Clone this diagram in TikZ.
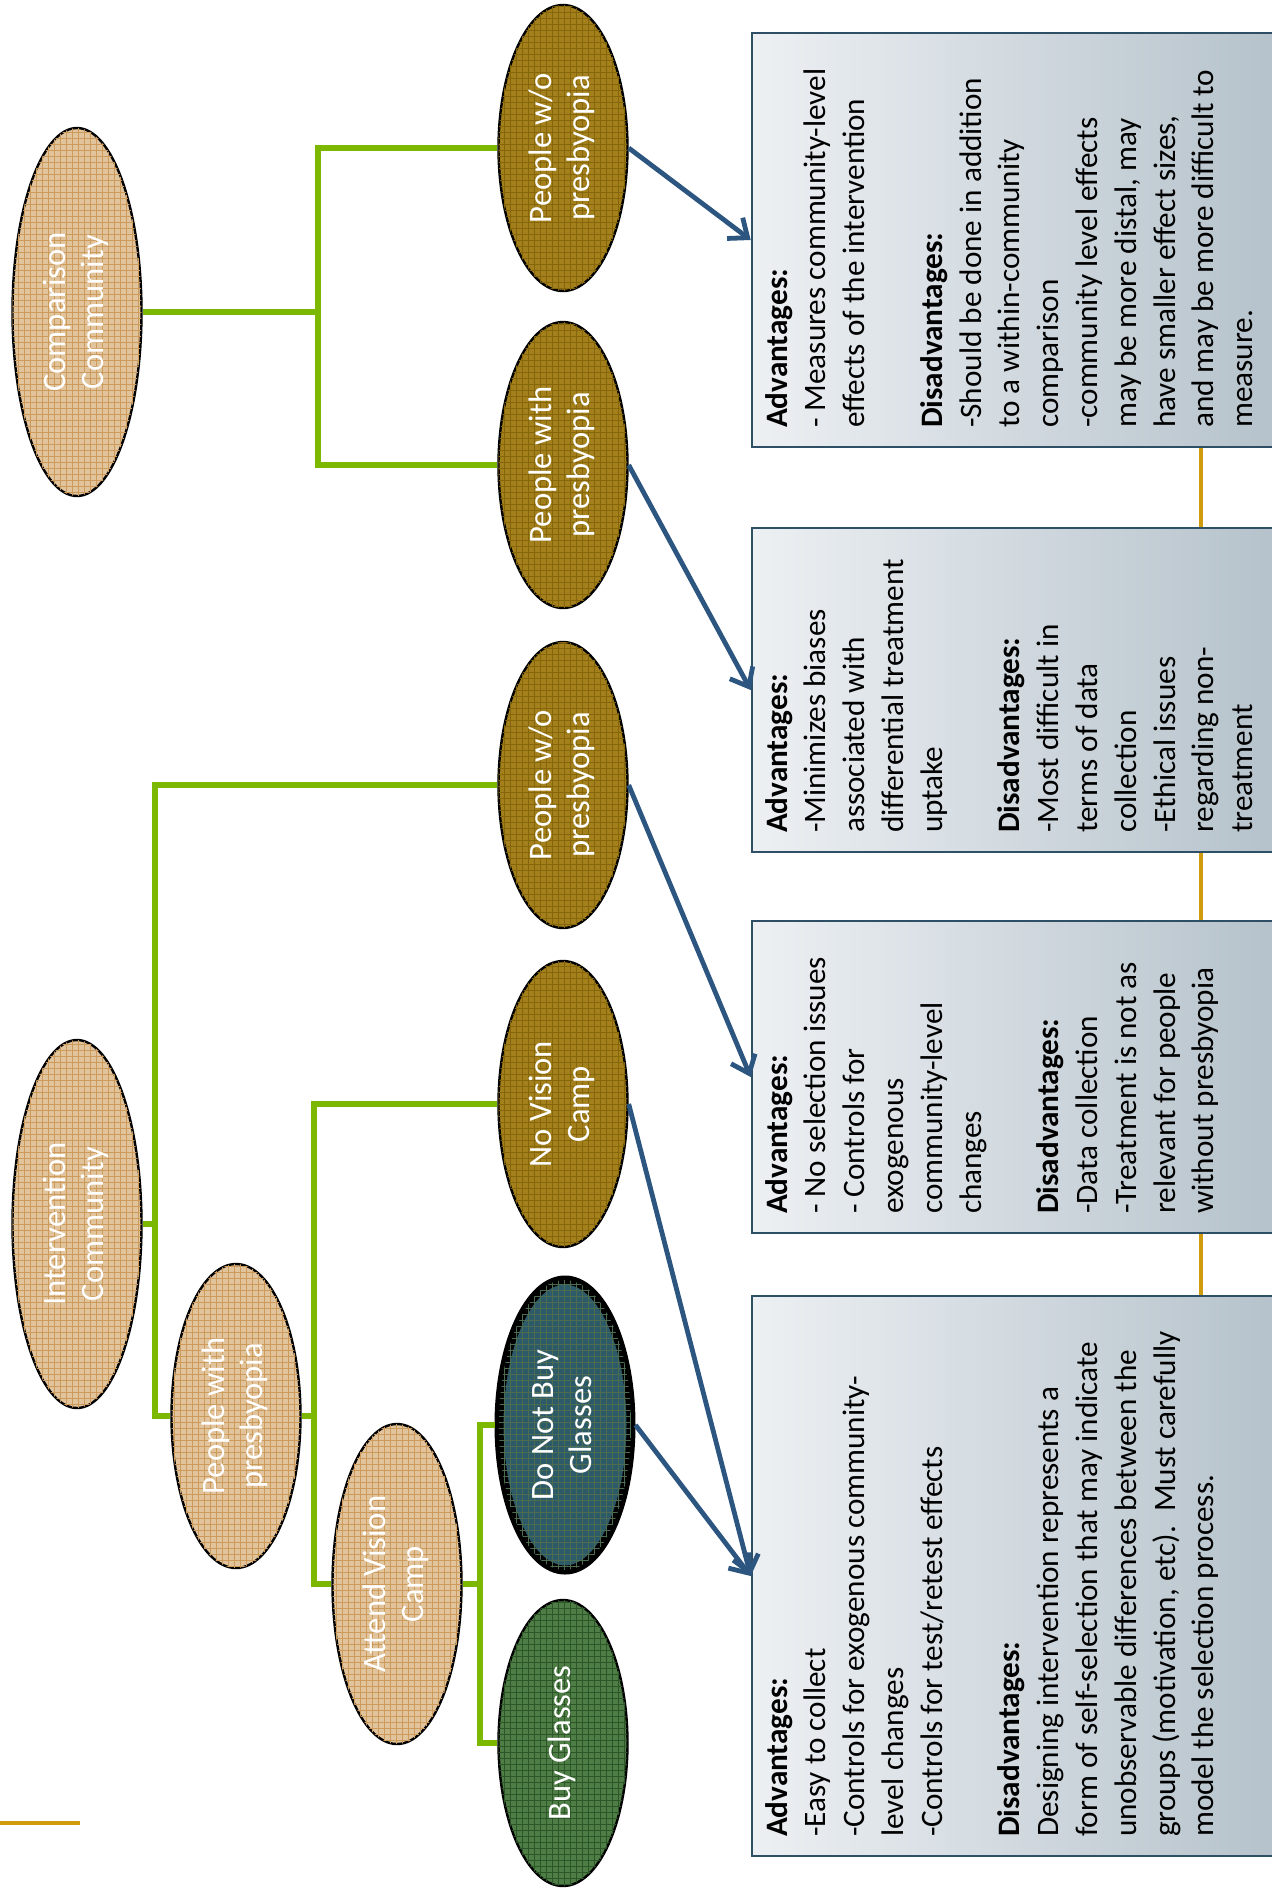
\documentclass[tikz,border=0pt]{standalone}
\usepackage{fontspec}
\setmainfont{Carlito}
\usepackage{graphicx}
\usetikzlibrary{shapes.geometric,arrows.meta,patterns}

\definecolor{tanfill}{HTML}{E2C49C}
\definecolor{tangrid}{HTML}{CC9B5C}
\definecolor{olivefill}{HTML}{A3801C}
\definecolor{olivegrid}{HTML}{85660A}
\definecolor{tealfill}{HTML}{2D5A69}
\definecolor{tealgrid}{HTML}{4C6C52}
\definecolor{leaffill}{HTML}{4E7D45}
\definecolor{leafgrid}{HTML}{2C5628}
\definecolor{treegreen}{HTML}{7DB800}
\definecolor{linkblue}{HTML}{2C5580}
\definecolor{goldline}{HTML}{D09C0E}
\definecolor{panelL}{HTML}{EDF0F3}
\definecolor{panelR}{HTML}{B4C1CA}
\definecolor{panelborder}{HTML}{2E5066}

\newcommand{\vtext}[1]{\rotatebox{90}{\begin{tabular}{@{}c@{}}#1\end{tabular}}}

\begin{document}
\begin{tikzpicture}[x=0.5pt,y=-0.5pt,
  blob/.style={ellipse, draw=black, line width=1.2pt, inner sep=0pt,
    text=white, font=\fontsize{16.3}{19}\selectfont, minimum width=64.5pt},
  tanblob/.style={blob, fill=tanfill, postaction={pattern=grid, pattern color=tangrid}},
  oliveblob/.style={blob, fill=olivefill, postaction={pattern=grid, pattern color=olivegrid}},
  tree/.style={draw=treegreen, line width=2.6pt, line join=miter},
  link/.style={draw=linkblue, line width=2.4pt, -{Straight Barb[length=8pt,width=13pt]}},
  panel/.style={rectangle, draw=panelborder, line width=1.3pt,
    left color=panelL, right color=panelR, inner sep=0pt, minimum width=269pt},
  paneltext/.style={rotate=90, anchor=north west, inner sep=0pt, align=left,
    font=\fontsize{15.6}{19.4}\selectfont},
  goldrule/.style={draw=goldline, line width=2pt}
]
\useasboundingbox (0,0) rectangle (1272,1896);
\clip (0,0) rectangle (1272,1896);

% ---- community and group ellipses ----
\node[tanblob, minimum height=184pt] (comp) at (77,312) {\vtext{Comparison\\Community}};
\node[tanblob, minimum height=184pt] (interv) at (77,1224) {\vtext{Intervention\\Community}};
\node[tanblob, minimum height=152pt] (pw2) at (236,1416) {\vtext{People with\\presbyopia}};
\node[tanblob, minimum height=160pt] (avc) at (397,1584) {\vtext{Attend Vision\\Camp}};

\node[oliveblob, minimum height=143pt] (pwo1) at (563,148) {\vtext{People w/o\\presbyopia}};
\node[oliveblob, minimum height=143pt] (pw1) at (563,465) {\vtext{People with\\presbyopia}};
\node[oliveblob, minimum height=143pt] (pwo2) at (563,785) {\vtext{People w/o\\presbyopia}};
\node[oliveblob, minimum height=143pt] (nvc) at (563,1104) {\vtext{No Vision\\Camp}};
\node[blob, line width=4.5pt, fill=tealfill, postaction={pattern=grid, pattern color=tealgrid},
  minimum width=66pt, minimum height=145pt] (dnb) at (565,1425) {\vtext{Do Not Buy\\Glasses}};
\node[blob, fill=leaffill, postaction={pattern=grid, pattern color=leafgrid},
  minimum height=143pt] (buy) at (563,1743) {\vtext{Buy Glasses}};

% ---- tree connectors ----
\coordinate (tA) at (318,0);
\coordinate (tB) at (155,0);
\coordinate (tC) at (314,0);
\coordinate (tD) at (480,0);

\draw[tree] (comp.east) -- (comp.east -| tA);
\draw[tree] (pwo1.west) -- (pwo1.west -| tA) -- (pw1.west -| tA) -- (pw1.west);

\draw[tree] (interv.east) -- (interv.east -| tB);
\draw[tree] (pwo2.west) -- (pwo2.west -| tB) -- (pw2.west -| tB) -- (pw2.west);

\draw[tree] (pw2.east) -- (pw2.east -| tC);
\draw[tree] (nvc.west) -- (nvc.west -| tC) -- (avc.west -| tC) -- (avc.west);

\draw[tree] (avc.east) -- (avc.east -| tD);
\draw[tree] (dnb.west) -- (dnb.west -| tD) -- (buy.west -| tD) -- (buy.west);

% ---- comparison panels ----
\node[panel, minimum height=207pt] (boxA) at (1021,240) {};
\node[panel, minimum height=162pt] (boxB) at (1021,690) {};
\node[panel, minimum height=156pt] (boxC) at (1021,1077) {};
\node[panel, minimum height=280pt] (boxD) at (1021,1576) {};

\node[paneltext] (txtA) at ([xshift=7pt,yshift=10pt]boxA.south west) {%
\textbf{Advantages:}\\
- Measures community-level\\
effects of the intervention\\[19.4pt]
\textbf{Disadvantages:}\\
-Should be done in addition\\
to a within-community\\
comparison\\
-community level effects\\
may be more distal, may\\
have smaller effect sizes,\\
and may be more difficult to\\
measure.};

\node[paneltext] (txtB) at ([xshift=7pt,yshift=10pt]boxB.south west) {%
\textbf{Advantages:}\\
-Minimizes biases\\
associated with\\
differential treatment\\
uptake\\[19.4pt]
\textbf{Disadvantages:}\\
-Most difficult in\\
terms of data\\
collection\\
-Ethical issues\\
regarding non-\\
treatment};

\node[paneltext] (txtC) at ([xshift=7pt,yshift=10pt]boxC.south west) {%
\textbf{Advantages:}\\
- No selection issues\\
- Controls for\\
exogenous\\
community-level\\
changes\\[19.4pt]
\textbf{Disadvantages:}\\
-Data collection\\
-Treatment is not as\\
relevant for people\\
without presbyopia};

\node[paneltext] (txtD) at ([xshift=7pt,yshift=10pt]boxD.south west) {%
\textbf{Advantages:}\\
-Easy to collect\\
-Controls for exogenous community-\\
level changes\\
-Controls for test/retest effects\\[19.4pt]
\textbf{Disadvantages:}\\
Designing intervention represents a\\
form of self-selection that may indicate\\
unobservable differences between the\\
groups (motivation, etc).\ \ Must carefully\\
model the selection process.};

% ---- gold rule linking the panels ----
\coordinate (gold) at (1201,0);
\draw[goldrule] (boxA.south -| gold) -- (boxB.north -| gold);
\draw[goldrule] (boxB.south -| gold) -- (boxC.north -| gold);
\draw[goldrule] (boxC.south -| gold) -- (boxD.north -| gold);

\coordinate (g1) at (0,1823);
\coordinate (g2) at (80,1823);
\draw[goldrule] (g1) -- (g2);

% ---- arrows from groups to panels ----
\draw[link] (pwo1.east) -- (boxA.west);
\draw[link] (pw1.east) -- (boxB.west);
\draw[link] (pwo2.east) -- (boxC.west);
\draw[link] (nvc.east) -- (boxD.west);
\draw[link] (dnb.east) -- (boxD.west);
\end{tikzpicture}
\end{document}
